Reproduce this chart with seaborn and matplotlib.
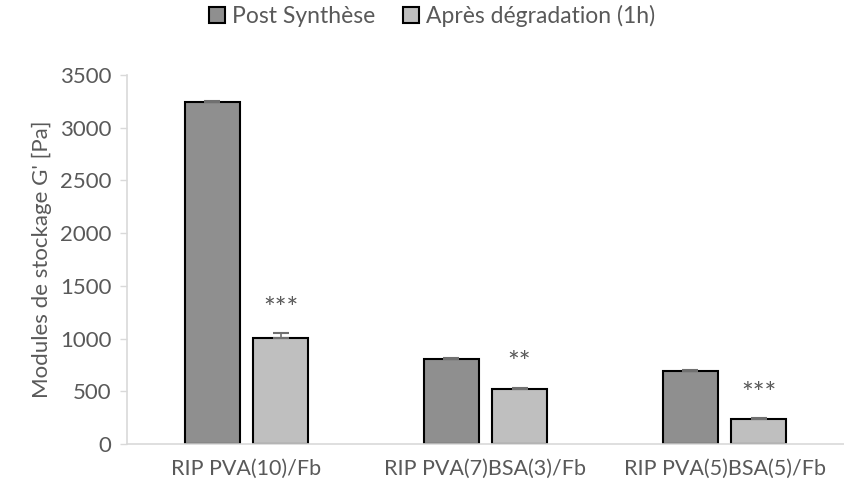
import matplotlib
matplotlib.use("Agg")
import matplotlib.pyplot as plt
import seaborn as sns
import pandas as pd
import numpy as np

categories = ["RIP PVA(10)/Fb", "RIP PVA(7)BSA(3)/Fb", "RIP PVA(5)BSA(5)/Fb"]
series_names = ["Post Synthèse", "Après dégradation (1h)"]
post_values = [3240, 805, 690]
post_errors = [10, 15, 8]
after_values = [1005, 522, 237]
after_errors = [45, 8, 5]
significance = ["***", "**", "***"]
y_ticks = [0, 500, 1000, 1500, 2000, 2500, 3000, 3500]

colors = ["#8f8f8f", "#bfbfbf"]
text_color = "#595959"
axis_color = "#d9d9d9"

sns.set_theme(style="white")
plt.rcParams["font.family"] = ["Lato", "DejaVu Sans"]

df = pd.DataFrame({
    "cat": categories * 2,
    "series": [series_names[0]] * 3 + [series_names[1]] * 3,
    "value": post_values + after_values,
    "err": post_errors + after_errors,
})

fig = plt.figure(figsize=(8.44, 4.92), dpi=100)
ax = fig.add_axes([127 / 844, (492 - 444) / 492, (844 - 127) / 844, (444 - 75) / 492])

sns.barplot(data=df, x="cat", y="value", hue="series", order=categories,
            hue_order=series_names, palette=colors, width=0.57, gap=0.203,
            errorbar=None, edgecolor="black", linewidth=1.5, ax=ax,
            legend=True)

bars = [p for p in ax.patches if p.get_height() > 0]
bars_sorted = sorted(bars, key=lambda p: p.get_x())
errs_seq = []
vals_seq = []
for i in range(3):
    vals_seq += [post_values[i], after_values[i]]
    errs_seq += [post_errors[i], after_errors[i]]
for p, v, e in zip(bars_sorted, vals_seq, errs_seq):
    xc = p.get_x() + p.get_width() / 2
    ax.errorbar(xc, v, yerr=[[0], [e]], fmt="none", ecolor="#707070",
                elinewidth=1.2, capsize=6, capthick=1.5, zorder=1)

for i, s in enumerate(significance):
    ax.text(i + 0.1425, after_values[i] + after_errors[i] + 225, s,
            ha="center", va="center", fontsize=20, color=text_color)

ax.set_ylim(0, 3500)
ax.set_yticks(y_ticks)
ax.set_xlim(-0.5, 2.5 - 9 / 242)
ax.set_xlabel("")
ax.set_ylabel("Modules de stockage G' [Pa]", fontsize=16, color=text_color, labelpad=6)
ax.tick_params(axis="y", colors=axis_color, labelcolor=text_color, labelsize=16,
               length=5, width=1, direction="out", left=True, pad=6)
ax.tick_params(axis="x", colors=text_color, labelsize=15.5, length=0, pad=11)
ax.set_xticks(range(3))
ax.set_xticklabels(categories)

ax.set_xticks([-0.5, 0.5, 1.5, 2.5], minor=True)
ax.tick_params(axis="x", which="minor", length=6, width=1, color=axis_color)

for side in ["top", "right"]:
    ax.spines[side].set_visible(False)
for side in ["left", "bottom"]:
    ax.spines[side].set_color(axis_color)
    ax.spines[side].set_linewidth(1.2)
ax.grid(False)

handles, labels = ax.get_legend_handles_labels()
ax.get_legend().remove()
fig.legend(handles, labels, loc="center", bbox_to_anchor=(432 / 844, 1 - 16 / 492),
           ncol=2, frameon=False, fontsize=16.5, labelcolor=text_color,
           handlelength=0.7, handleheight=0.7, handletextpad=0.3, columnspacing=1.2)

fig.savefig("out.png", dpi=100)
